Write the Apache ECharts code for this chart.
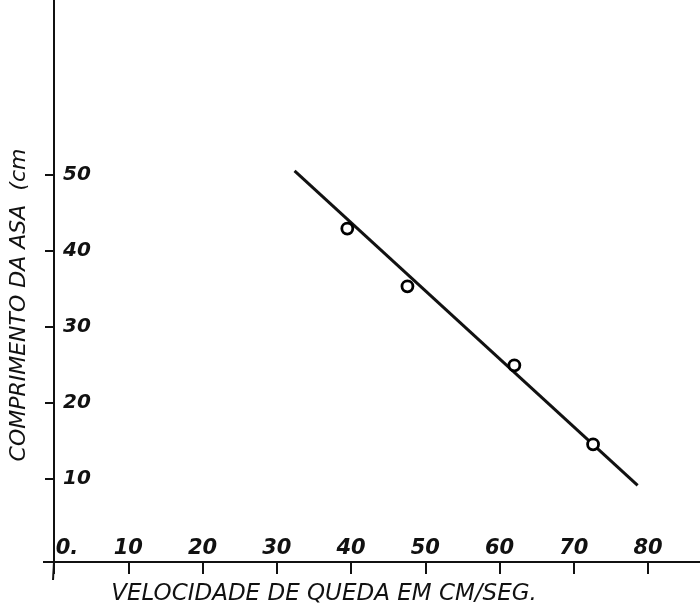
<!DOCTYPE html>
<html>
<head>
<meta charset="utf-8">
<script src="https://cdn.jsdelivr.net/npm/echarts@6/dist/echarts.min.js"></script>
<style>
html,body{margin:0;padding:0;background:#fff;}
#chart{width:700px;height:614px;}
</style>
</head>
<body>
<div id="chart"></div>
<script>
// Data
const xTicks = [0, 10, 20, 30, 40, 50, 60, 70, 80];
const yTicks = [10, 20, 30, 40, 50];
const speed = [39.5, 47.6, 62.0, 72.6];          // velocidade de queda (cm/seg)
const wingLength = [42.9, 35.3, 24.9, 14.5];     // comprimento da asa (cm)
const fitX = [32.4, 78.6];
const fitY = [50.5, 9.1];
const xTitle = 'VELOCIDADE DE QUEDA EM CM/SEG.';
const yTitle = 'COMPRIMENTO DA ASA  (cm';

const ink = '#111';
const font = 'DejaVu Sans';

const chart = echarts.init(document.getElementById('chart'), null, {renderer: 'canvas'});
const option = {
  animation: false,
  backgroundColor: '#fff',
  grid: {left: 47, right: 0, top: 0, bottom: 52, containLabel: false},
  xAxis: {
    type: 'value', min: 0, max: 87,
    name: xTitle, nameLocation: 'middle', nameGap: 21,
    nameTextStyle: {fontFamily: font, fontStyle: 'italic', fontSize: 23, color: ink, padding: [0, 106, 0, 0]},
    axisLine: {onZero: false, lineStyle: {color: ink, width: 2}},
    axisTick: {customValues: xTicks, length: 12, lineStyle: {color: ink, width: 2}},
    axisLabel: {
      customValues: xTicks, inside: true, margin: 3,
      fontFamily: font, fontStyle: 'italic', fontWeight: 'bold', fontSize: 21, color: ink,
      formatter: v => v === 0 ? '{o|0.}' : String(v),
      rich: {o: {fontFamily: font, fontStyle: 'italic', fontWeight: 'bold', fontSize: 21, color: ink, padding: [0, 0, 0, 26]}}
    },
    splitLine: {show: false}
  },
  yAxis: {
    type: 'value', min: -1, max: 73,
    name: yTitle, nameLocation: 'middle', nameGap: 24, nameRotate: 90,
    nameTextStyle: {fontFamily: font, fontStyle: 'italic', fontSize: 22, color: ink, padding: [0, 48, 0, 0]},
    axisLine: {lineStyle: {color: ink, width: 2}},
    axisTick: {customValues: yTicks, length: 9, lineStyle: {color: ink, width: 2}},
    axisLabel: {customValues: yTicks, inside: true, margin: 9,
      fontFamily: font, fontStyle: 'italic', fontWeight: 'bold', fontSize: 20, color: ink},
    splitLine: {show: false}
  },
  series: [
    {
      type: 'line', data: fitX.map((x, i) => [x, fitY[i]]),
      showSymbol: false, lineStyle: {color: ink, width: 3}, z: 2, silent: true
    },
    {
      type: 'scatter', data: speed.map((x, i) => [x, wingLength[i]]),
      symbol: 'circle', symbolSize: 11,
      itemStyle: {color: '#fff', borderColor: '#000', borderWidth: 2.8, opacity: 1}, z: 3
    }
  ]
};
chart.setOption(option);
// small extensions of the hand-drawn axes past the origin
const o = chart.convertToPixel({gridIndex: 0}, [0, -1]);
chart.setOption({
  graphic: [
    {type: 'line', shape: {x1: o[0], y1: o[1], x2: o[0] - 1, y2: o[1] + 18}, style: {stroke: ink, lineWidth: 2}},
    {type: 'line', shape: {x1: o[0] - 11, y1: o[1], x2: o[0], y2: o[1]}, style: {stroke: ink, lineWidth: 2}}
  ]
});
</script>
</body>
</html>
